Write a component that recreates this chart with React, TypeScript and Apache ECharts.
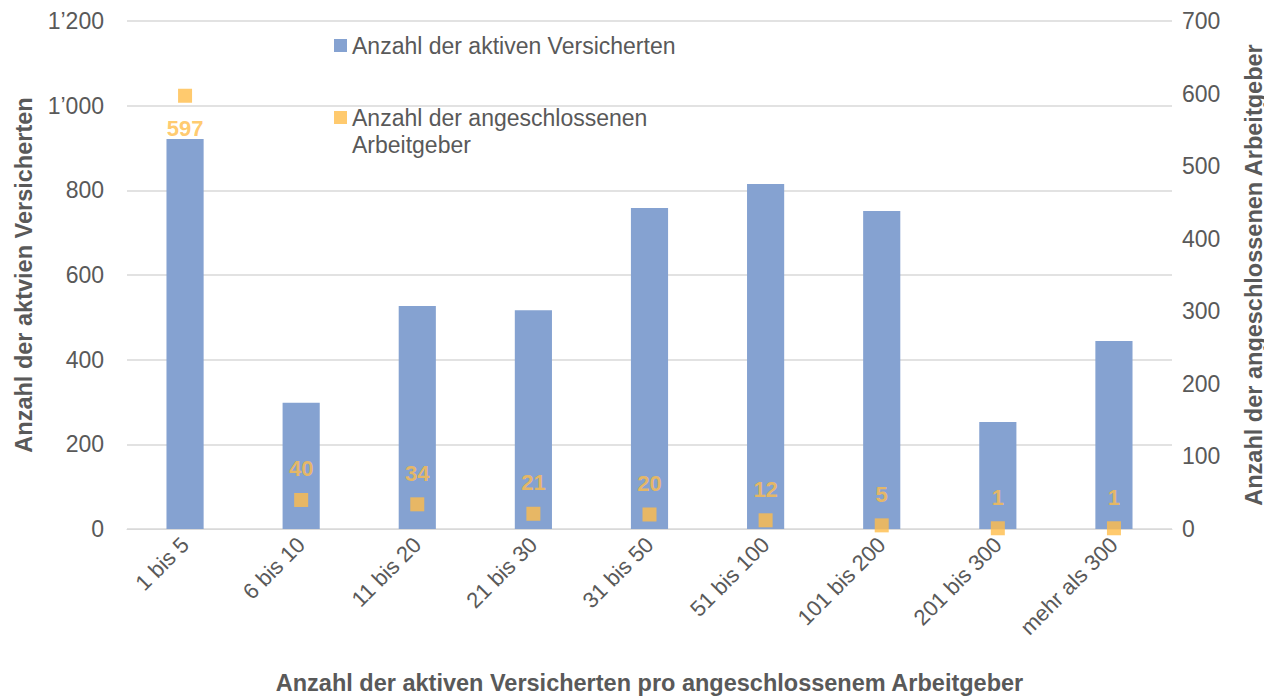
import React, { useEffect, useRef } from "react";
import * as echarts from "echarts";

const categories = ["1 bis 5", "6 bis 10", "11 bis 20", "21 bis 30", "31 bis 50", "51 bis 100", "101 bis 200", "201 bis 300", "mehr als 300"];
const versicherte = [921, 298, 527, 517, 758, 815, 751, 253, 444];
const arbeitgeber = [597, 40, 34, 21, 20, 12, 5, 1, 1];

const barName = "Anzahl der aktiven Versicherten";
const scatterName = "Anzahl der angeschlossenen Arbeitgeber";
const FONT = "'Liberation Sans', Arial, sans-serif";
const GRAY = "#595959";
const BLUE = "#85A2D1";
const ORANGE = "#FFBD4A";

const fmtThousands = (v: number) => {
  const s = String(v);
  return s.length > 3 ? s.slice(0, s.length - 3) + "’" + s.slice(s.length - 3) : s;
};

export default function App() {
  const ref = useRef<HTMLDivElement>(null);
  useEffect(() => {
    if (!ref.current) return;
    const chart = echarts.init(ref.current, undefined, { renderer: "svg" });
    chart.setOption({
      animation: false,
      textStyle: { fontFamily: FONT },
      grid: { left: 119, right: 100, top: 13, bottom: 169, outerBoundsMode: "none", containLabel: false },
      legend: [
        {
          data: [barName],
          orient: "vertical",
          left: 321,
          top: 21,
          icon: "rect",
          itemWidth: 13,
          itemHeight: 13,
          textStyle: { color: GRAY, fontSize: 23, fontFamily: FONT },
        },
        {
          data: [scatterName],
          orient: "vertical",
          left: 321,
          top: 64,
          icon: "rect",
          itemWidth: 13,
          itemHeight: 13,
          formatter: () => " \nAnzahl der angeschlossenen\nArbeitgeber",
          textStyle: { color: GRAY, fontSize: 23, lineHeight: 27, fontFamily: FONT },
        },
      ],
      xAxis: {
        type: "category",
        data: categories,
        name: "Anzahl der aktiven Versicherten pro angeschlossenem Arbeitgeber",
        nameLocation: "middle",
        nameGap: 142,
        nameTextStyle: { color: GRAY, fontSize: 23.5, fontWeight: "bold", fontFamily: FONT },
        axisLine: { lineStyle: { color: "#D9D9D9" } },
        axisTick: { show: false },
        axisLabel: { rotate: 45, color: GRAY, fontSize: 22, margin: 12, fontFamily: FONT },
      },
      yAxis: [
        {
          type: "value",
          min: 0,
          max: 1200,
          interval: 200,
          name: "Anzahl der aktvien Versicherten",
          nameLocation: "middle",
          nameGap: 91,
          nameTextStyle: { color: GRAY, fontSize: 23.5, fontWeight: "bold", fontFamily: FONT },
          axisLabel: { color: GRAY, fontSize: 23, margin: 23, formatter: fmtThousands, fontFamily: FONT },
          splitLine: { lineStyle: { color: "#D9D9D9", width: 1.5 } },
          axisLine: { show: false },
          axisTick: { show: false },
        },
        {
          type: "value",
          min: 0,
          max: 700,
          interval: 100,
          name: "Anzahl der angeschlossenen Arbeitgeber",
          nameLocation: "middle",
          nameGap: 70,
          nameTextStyle: { color: GRAY, fontSize: 23.5, fontWeight: "bold", fontFamily: FONT },
          axisLabel: { color: GRAY, fontSize: 23, margin: 10, fontFamily: FONT },
          splitLine: { show: false },
          axisLine: { show: false },
          axisTick: { show: false },
        },
      ],
      series: [
        {
          name: barName,
          type: "bar",
          data: versicherte,
          barWidth: "32%",
          itemStyle: { color: BLUE },
          yAxisIndex: 0,
        },
        {
          name: scatterName,
          type: "scatter",
          data: arbeitgeber.map((v, i) =>
            i === 0
              ? { value: v, label: { position: "bottom", distance: 15 } }
              : v
          ),
          yAxisIndex: 1,
          symbol: "rect",
          symbolSize: 14,
          itemStyle: { color: ORANGE },
          label: {
            show: true,
            position: "top",
            distance: 13,
            color: ORANGE,
            fontSize: 22,
            fontWeight: "bold",
            fontFamily: FONT,
          },
        },
      ],
    });
    return () => chart.dispose();
  }, []);
  return <div ref={ref} style={{ width: 1264, height: 690 }} />;
}
